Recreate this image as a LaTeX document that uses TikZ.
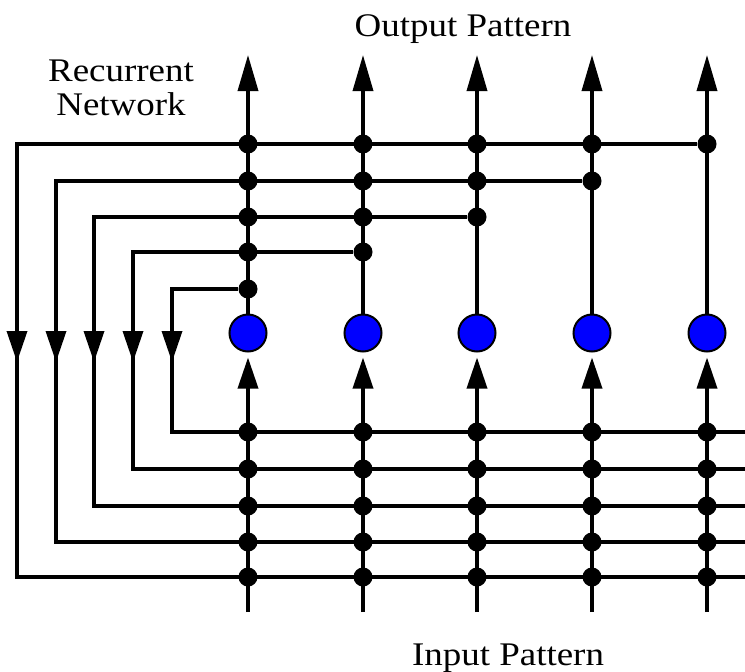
\documentclass[tikz,border=0pt]{standalone}
\usepackage{fontspec}
\setmainfont{Liberation Serif}[FakeStretch=1.12]
\usetikzlibrary{arrows.meta}
\begin{document}
\begin{tikzpicture}[x=1pt,y=-1pt,
  wire/.style={line width=3.5pt},
  dot/.style={circle,fill=black,inner sep=0pt,minimum size=19pt},
  neuron/.style={circle,draw=black,line width=2pt,fill=blue,inner sep=0pt,minimum size=37pt},
  tipout/.style={-{Triangle[length=36pt,width=20pt]}},
  tipin/.style={-{Triangle[length=31pt,width=20pt]}},
  lbl/.style={font=\fontsize{33}{35}\selectfont,anchor=base,inner sep=0pt}]
\useasboundingbox (0,0) rectangle (745,672);
% neurons, top ends, bottom ends
\foreach \x [count=\j] in {248,363,477,592,707} {
  \node[neuron] (n\j) at (\x,333) {};
  \coordinate (o\j) at (\x,55);
  \coordinate (s\j) at (\x,612);
}
% bottom (input side) rows
\foreach \y [count=\k] in {432,469,506,542,577} {
  \coordinate (r\k) at (745,\y);
  \foreach \x [count=\j] in {248,363,477,592,707}
    \node[dot] (b\k-\j) at (\x,\y) {};
}
% top (recurrent) rows
\foreach \y/\lx/\m/\by [count=\i] in {144/17/5/577,181/56/4/542,217/94/3/506,252/133/2/469,289/172/1/432} {
  \coordinate (lt\i) at (\lx,\y);
  \coordinate (la\i) at (\lx,362);
  \coordinate (lb\i) at (\lx,\by);
  \foreach \j in {1,...,\m} {
    \pgfmathsetmacro\xx{{248,363,477,592,707}[\j-1]}
    \node[dot] (t\i-\j) at (\xx,\y) {};
  }
}
% column connectors
\foreach \j in {1,...,5} {
  \draw[wire,tipout] (n\j) -- (o\j);
  \draw[wire,tipin,shorten >=5pt] (s\j) -- (n\j);
}
% recurrent loops
\draw[wire] (t1-5) -- (lt1) -- (lb1) -- (r5);
\draw[wire] (t2-4) -- (lt2) -- (lb2) -- (r4);
\draw[wire] (t3-3) -- (lt3) -- (lb3) -- (r3);
\draw[wire] (t4-2) -- (lt4) -- (lb4) -- (r2);
\draw[wire] (t5-1) -- (lt5) -- (lb5) -- (r1);
\foreach \i in {1,...,5}
  \draw[wire,tipin] (lt\i) -- (la\i);
% labels
\node[lbl] (out) at (463,36) {Output Pattern};
\node[lbl] (rec1) at (121,81) {Recurrent};
\node[lbl] (rec2) at (121,115) {Network};
\node[lbl] (inp) at (508,665) {Input Pattern};
\end{tikzpicture}
\end{document}
